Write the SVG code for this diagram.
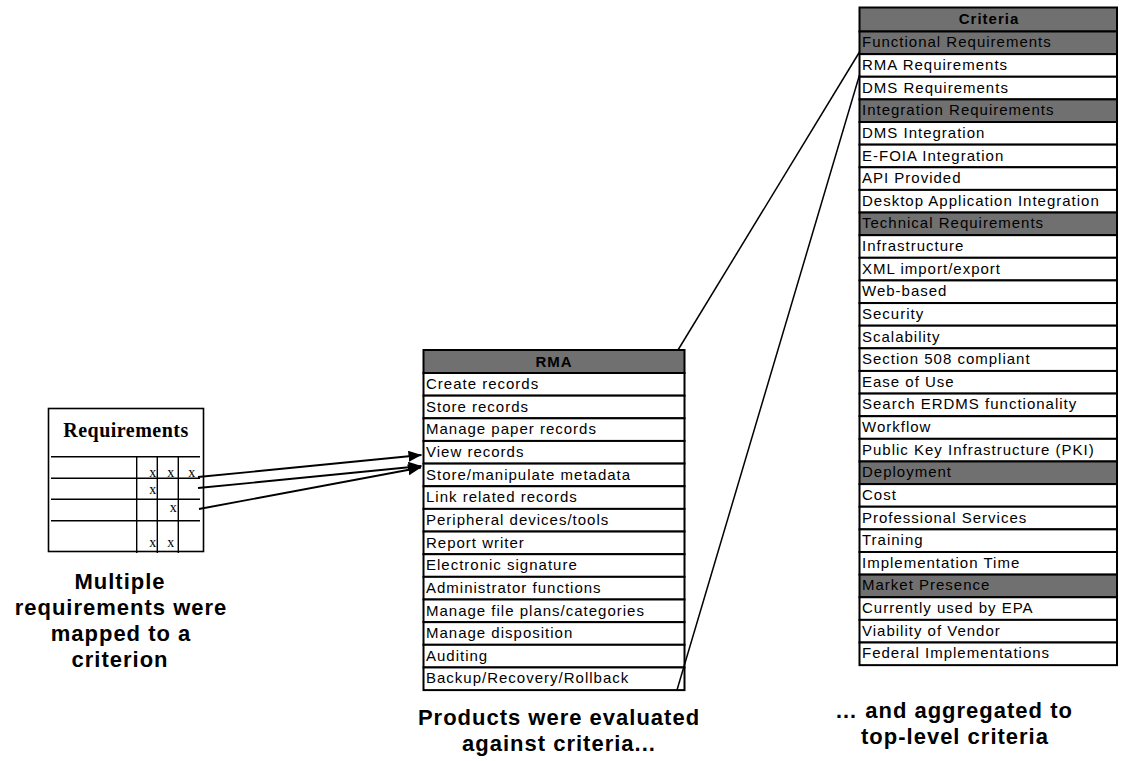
<svg xmlns="http://www.w3.org/2000/svg" width="1121" height="761" viewBox="0 0 1121 761">
<style>
.w{fill:#fff;stroke:#000;stroke-width:2}
.g{fill:#707070;stroke:#000;stroke-width:2}
.t{font-family:"Liberation Sans",Arial,sans-serif;font-size:15px;letter-spacing:1px;fill:#000}
.h{font-family:"Liberation Sans",Arial,sans-serif;font-size:15px;font-weight:bold;letter-spacing:1px;fill:#000;text-anchor:middle}
.cap{font-family:"Liberation Sans",Arial,sans-serif;font-size:22px;font-weight:bold;letter-spacing:1px;fill:#000;text-anchor:middle}
.x{font-family:"Liberation Serif","Times New Roman",serif;font-size:14px;fill:#000;text-anchor:middle}
.rl{stroke:#000;stroke-width:1.4;fill:none}
.c{stroke:#000;stroke-width:1.8;fill:none}
.c2{stroke:#000;stroke-width:1.5;fill:none}
</style>
<defs>
<marker id="ah" markerUnits="userSpaceOnUse" markerWidth="14" markerHeight="12" refX="13" refY="5.5" orient="auto">
<path d="M0,0 L13,5.5 L0,11 z" fill="#000"/>
</marker>
</defs>

<g id="requirements">
<rect x="48.5" y="408.5" width="155" height="143" fill="#fff" stroke="#000" stroke-width="1.6"/>
<text x="126" y="437" style="font-family:'Liberation Serif','Times New Roman',serif;font-size:20px;font-weight:bold;letter-spacing:0.5px" text-anchor="middle">Requirements</text>
<line class="rl" x1="51" y1="456.7" x2="200" y2="456.7"/>
<line class="rl" x1="51" y1="478.3" x2="200" y2="478.3"/>
<line class="rl" x1="51" y1="499.3" x2="200" y2="499.3"/>
<line class="rl" x1="51" y1="520.7" x2="200" y2="520.7"/>
<line class="rl" x1="136.7" y1="456.7" x2="136.7" y2="553"/>
<line class="rl" x1="157.3" y1="456.7" x2="157.3" y2="553"/>
<line class="rl" x1="178.3" y1="456.7" x2="178.3" y2="553"/>
<text class="x" x="152.7" y="477">x</text>
<text class="x" x="170.7" y="477">x</text>
<text class="x" x="191.7" y="477">x</text>
<text class="x" x="152.7" y="494">x</text>
<text class="x" x="173.3" y="511.5">x</text>
<text class="x" x="152.7" y="546.5">x</text>
<text class="x" x="170.7" y="546.5">x</text>
</g>

<g id="rma">
<rect class="g" x="423.5" y="350" width="261" height="23"/>
<rect class="w" x="423.5" y="373" width="261" height="22.65"/>
<rect class="w" x="423.5" y="395.65" width="261" height="22.65"/>
<rect class="w" x="423.5" y="418.3" width="261" height="22.65"/>
<rect class="w" x="423.5" y="440.95" width="261" height="22.65"/>
<rect class="w" x="423.5" y="463.6" width="261" height="22.65"/>
<rect class="w" x="423.5" y="486.25" width="261" height="22.65"/>
<rect class="w" x="423.5" y="508.9" width="261" height="22.65"/>
<rect class="w" x="423.5" y="531.55" width="261" height="22.65"/>
<rect class="w" x="423.5" y="554.2" width="261" height="22.65"/>
<rect class="w" x="423.5" y="576.85" width="261" height="22.65"/>
<rect class="w" x="423.5" y="599.5" width="261" height="22.65"/>
<rect class="w" x="423.5" y="622.15" width="261" height="22.65"/>
<rect class="w" x="423.5" y="644.8" width="261" height="22.65"/>
<rect class="w" x="423.5" y="667.45" width="261" height="22.65"/>
<text class="h" x="554" y="367">RMA</text>
<text class="t" x="426" y="389">Create records</text>
<text class="t" x="426" y="411.6">Store records</text>
<text class="t" x="426" y="434.3">Manage paper records</text>
<text class="t" x="426" y="456.9">View records</text>
<text class="t" x="426" y="479.6">Store/manipulate metadata</text>
<text class="t" x="426" y="502.2">Link related records</text>
<text class="t" x="426" y="524.9">Peripheral devices/tools</text>
<text class="t" x="426" y="547.5">Report writer</text>
<text class="t" x="426" y="570.2">Electronic signature</text>
<text class="t" x="426" y="592.8">Administrator functions</text>
<text class="t" x="426" y="615.5">Manage file plans/categories</text>
<text class="t" x="426" y="638.1">Manage disposition</text>
<text class="t" x="426" y="660.8">Auditing</text>
<text class="t" x="426" y="683.4">Backup/Recovery/Rollback</text>
</g>

<g id="criteria">
<rect class="g" x="859.5" y="7.5" width="257.5" height="24"/>
<rect class="g" x="859.5" y="31.5" width="257.5" height="22.63"/>
<rect class="w" x="859.5" y="54.13" width="257.5" height="22.63"/>
<rect class="w" x="859.5" y="76.76" width="257.5" height="22.63"/>
<rect class="g" x="859.5" y="99.39" width="257.5" height="22.63"/>
<rect class="w" x="859.5" y="122.02" width="257.5" height="22.63"/>
<rect class="w" x="859.5" y="144.65" width="257.5" height="22.63"/>
<rect class="w" x="859.5" y="167.28" width="257.5" height="22.63"/>
<rect class="w" x="859.5" y="189.91" width="257.5" height="22.63"/>
<rect class="g" x="859.5" y="212.54" width="257.5" height="22.63"/>
<rect class="w" x="859.5" y="235.17" width="257.5" height="22.63"/>
<rect class="w" x="859.5" y="257.8" width="257.5" height="22.63"/>
<rect class="w" x="859.5" y="280.43" width="257.5" height="22.63"/>
<rect class="w" x="859.5" y="303.06" width="257.5" height="22.63"/>
<rect class="w" x="859.5" y="325.69" width="257.5" height="22.63"/>
<rect class="w" x="859.5" y="348.32" width="257.5" height="22.63"/>
<rect class="w" x="859.5" y="370.95" width="257.5" height="22.63"/>
<rect class="w" x="859.5" y="393.58" width="257.5" height="22.63"/>
<rect class="w" x="859.5" y="416.21" width="257.5" height="22.63"/>
<rect class="w" x="859.5" y="438.84" width="257.5" height="22.63"/>
<rect class="g" x="859.5" y="461.47" width="257.5" height="22.63"/>
<rect class="w" x="859.5" y="484.1" width="257.5" height="22.63"/>
<rect class="w" x="859.5" y="506.73" width="257.5" height="22.63"/>
<rect class="w" x="859.5" y="529.36" width="257.5" height="22.63"/>
<rect class="w" x="859.5" y="551.99" width="257.5" height="22.63"/>
<rect class="g" x="859.5" y="574.62" width="257.5" height="22.63"/>
<rect class="w" x="859.5" y="597.25" width="257.5" height="22.63"/>
<rect class="w" x="859.5" y="619.88" width="257.5" height="22.63"/>
<rect class="w" x="859.5" y="642.51" width="257.5" height="22.63"/>
<text class="h" x="989" y="24">Criteria</text>
<text class="t" x="862" y="47.3">Functional Requirements</text>
<text class="t" x="862" y="69.9">RMA Requirements</text>
<text class="t" x="862" y="92.6">DMS Requirements</text>
<text class="t" x="862" y="115.2">Integration Requirements</text>
<text class="t" x="862" y="137.8">DMS Integration</text>
<text class="t" x="862" y="160.5">E-FOIA Integration</text>
<text class="t" x="862" y="183.1">API Provided</text>
<text class="t" x="862" y="205.7">Desktop Application Integration</text>
<text class="t" x="862" y="228.3">Technical Requirements</text>
<text class="t" x="862" y="251">Infrastructure</text>
<text class="t" x="862" y="273.6">XML import/export</text>
<text class="t" x="862" y="296.2">Web-based</text>
<text class="t" x="862" y="318.9">Security</text>
<text class="t" x="862" y="341.5">Scalability</text>
<text class="t" x="862" y="364.1">Section 508 compliant</text>
<text class="t" x="862" y="386.8">Ease of Use</text>
<text class="t" x="862" y="409.4">Search ERDMS functionality</text>
<text class="t" x="862" y="432">Workflow</text>
<text class="t" x="862" y="454.6">Public Key Infrastructure (PKI)</text>
<text class="t" x="862" y="477.3">Deployment</text>
<text class="t" x="862" y="499.9">Cost</text>
<text class="t" x="862" y="522.5">Professional Services</text>
<text class="t" x="862" y="545.2">Training</text>
<text class="t" x="862" y="567.8">Implementation Time</text>
<text class="t" x="862" y="590.4">Market Presence</text>
<text class="t" x="862" y="613.1">Currently used by EPA</text>
<text class="t" x="862" y="635.7">Viability of Vendor</text>
<text class="t" x="862" y="658.3">Federal Implementations</text>
</g>

<g id="connectors">
<line class="c" x1="198" y1="477" x2="421.5" y2="455" marker-end="url(#ah)"/>
<line class="c" x1="198" y1="488" x2="421.5" y2="466" marker-end="url(#ah)"/>
<line class="c" x1="199" y1="509" x2="421" y2="467.5" marker-end="url(#ah)"/>
<line class="c2" x1="678" y1="350" x2="859.5" y2="52"/>
<line class="c2" x1="677" y1="690" x2="859.5" y2="75"/>
</g>

<g id="captions">
<text class="cap" x="120" y="589">Multiple</text>
<text class="cap" x="121" y="615">requirements were</text>
<text class="cap" x="121" y="641">mapped to a</text>
<text class="cap" x="120" y="667">criterion</text>
<text class="cap" x="559" y="725">Products were evaluated</text>
<text class="cap" x="559" y="751">against criteria...</text>
<text class="cap" x="954" y="718">… and aggregated to</text>
<text class="cap" x="955" y="744">top-level criteria</text>
</g>
</svg>
